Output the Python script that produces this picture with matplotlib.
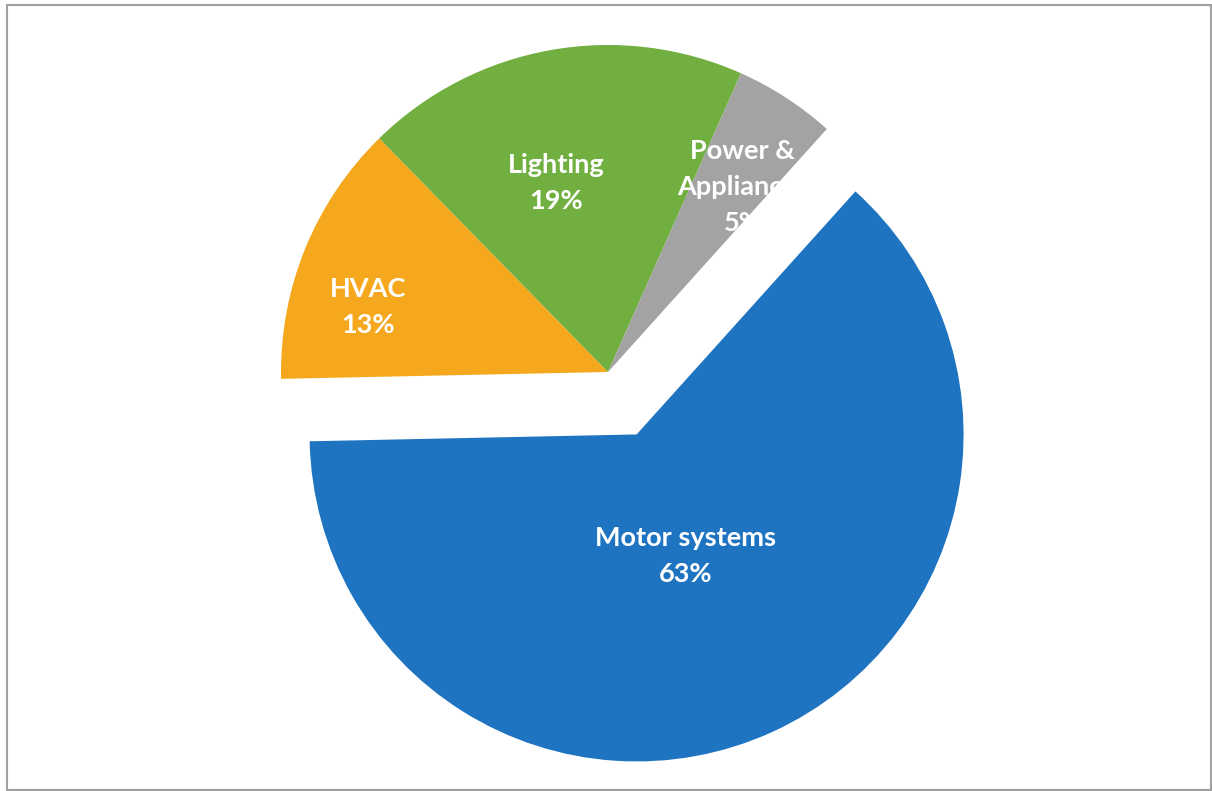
import numpy as np
import matplotlib.pyplot as plt
from matplotlib.patches import Rectangle

# electricity use by end use
categories = ["Motor systems", "HVAC", "Lighting", "Power &\nAppliances"]
shares = [63, 13, 19, 5]
colors = ["#1f74c1", "#f5a81e", "#72af41", "#a3a3a3"]
explode = [0.21, 0, 0, 0]  # fraction of the radius

# how far out along each wedge the label sits (fraction of radius)
label_r = [0.40, 0.76, 0.60, 0.70]
label_shift = [-2.5, 7, 5, -3]  # degrees off the wedge middle

W, H = 1212, 791
fig = plt.figure(figsize=(W / 100, H / 100), dpi=100)
ax = fig.add_axes([0, 0, 1, 1])

cx, cy, rad = 608, H - 372, 327
# pie takes the explode offset in data units, so scale it by the radius
wedges, _ = ax.pie(shares, colors=colors, explode=[e * rad for e in explode],
                   startangle=48, counterclock=False, center=(cx, cy),
                   radius=rad, wedgeprops=dict(linewidth=0))
ax.set_xlim(0, W)
ax.set_ylim(0, H)
ax.set_aspect("equal")
ax.axis("off")

for w, name, pct, rf, sh in zip(wedges, categories, shares, label_r, label_shift):
    x0, y0 = w.center
    mid = np.deg2rad((w.theta1 + w.theta2) / 2 + sh)
    x = x0 + rf * w.r * np.cos(mid)
    y = y0 + rf * w.r * np.sin(mid)
    ax.text(x, y, f"{name}\n{pct}%", ha="center", va="center", color="white",
            fontsize=19.5, fontweight="bold", family="Lato", linespacing=1.6)

# thin grey frame round the chart area
fig.add_artist(Rectangle((7 / W, 1 / H), (W - 8) / W, (H - 6) / H,
                         transform=fig.transFigure, fill=False,
                         edgecolor="#a0a0a0", linewidth=1.5))

fig.savefig("out.png", dpi=100)
